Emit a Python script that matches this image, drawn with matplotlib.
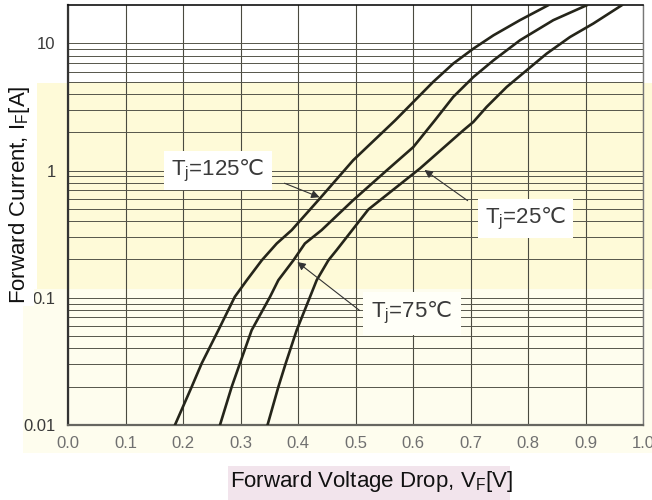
import matplotlib
matplotlib.use("Agg")
import matplotlib.pyplot as plt
from matplotlib.patches import Rectangle
from matplotlib.ticker import FixedLocator, NullFormatter

plt.rcParams['font.family'] = ['Liberation Sans', 'DejaVu Sans']
plt.rcParams['mathtext.fontset'] = 'custom'
plt.rcParams['mathtext.rm'] = 'Liberation Sans'
plt.rcParams['mathtext.it'] = 'Liberation Sans'
plt.rcParams['mathtext.sf'] = 'Noto Sans CJK SC'
plt.rcParams['mathtext.default'] = 'regular'

# ---- data ----
v125 = [0.186, 0.215, 0.2325, 0.2615, 0.290, 0.311, 0.337, 0.363, 0.389, 0.438, 0.496,
        0.569, 0.612, 0.635, 0.670, 0.705, 0.740, 0.786, 0.835]
i125 = [0.01, 0.0199, 0.0305, 0.0556, 0.1016, 0.1375, 0.197, 0.267, 0.340, 0.603, 1.205,
        2.48, 3.90, 4.97, 6.93, 9.08, 11.56, 15.2, 19.9]

v75 = [0.2643, 0.2846, 0.299, 0.3194, 0.3513, 0.3658, 0.392, 0.412, 0.441, 0.496, 0.554,
       0.6006, 0.624, 0.638, 0.670, 0.705, 0.740, 0.786, 0.844, 0.902]
i75 = [0.01, 0.0199, 0.0305, 0.0556, 0.1016, 0.1375, 0.197, 0.267, 0.340, 0.585, 1.0,
       1.53, 2.07, 2.48, 3.79, 5.43, 7.35, 10.56, 15.2, 19.9]

v25 = [0.347, 0.3658, 0.3786, 0.3977, 0.4209, 0.4325, 0.4528, 0.467, 0.5223, 0.612, 0.6875,
       0.705, 0.728, 0.763, 0.7977, 0.8325, 0.873, 0.9136, 0.963]
i25 = [0.01, 0.0199, 0.0305, 0.0556, 0.1016, 0.1375, 0.197, 0.2365, 0.494, 1.037, 2.07,
       2.41, 3.16, 4.54, 6.14, 8.30, 11.2, 14.3, 19.9]

x_ticks = [0.0, 0.1, 0.2, 0.3, 0.4, 0.5, 0.6, 0.7, 0.8, 0.9, 1.0]
x_tick_labels = ["0.0", "0.1", "0.2", "0.3", "0.4", "0.5", "0.6", "0.7", "0.8", "0.9", "1.0"]
y_ticks = [0.01, 0.1, 1, 10]
y_tick_labels = ["0.01", "0.1", "1", "10"]
y_minor = [m * 10.0 ** k for k in (-2, -1, 0) for m in range(2, 10)]

W, H = 652, 500
fig = plt.figure(figsize=(W / 100, H / 100), dpi=100)
fig.patch.set_facecolor('white')

def px_rect(x0, y0, x1, y1, color, z=-10):
    r = Rectangle((x0 / W, 1 - y1 / H), (x1 - x0) / W, (y1 - y0) / H,
                  transform=fig.transFigure, facecolor=color, edgecolor='none', zorder=z)
    fig.add_artist(r)

# background bands (scan colouring)
px_rect(37, 83, 652, 289, '#fefad8')
px_rect(23, 289, 652, 453, '#fefdee')
px_rect(228, 466, 510, 500, '#f2e4ec')

ax = fig.add_axes([68 / W, 75 / H, (643 - 68) / W, 420 / H])
ax.set_facecolor('none')
ax.set_yscale('log')
ax.set_xlim(0, 1.0)
ax.set_ylim(0.01, 20)

ax.set_xticks(x_ticks)
ax.set_xticklabels(x_tick_labels)
ax.set_yticks(y_ticks)
ax.set_yticklabels(y_tick_labels)
ax.yaxis.set_minor_locator(FixedLocator(y_minor))
ax.yaxis.set_minor_formatter(NullFormatter())
ax.tick_params(axis='both', which='both', length=0)
ax.tick_params(axis='x', pad=8, labelsize=12, labelcolor='#707070')
ax.tick_params(axis='y', pad=9, labelsize=12, labelcolor='#3a3a3a')

ax.grid(True, which='major', axis='x', color='#4a4a40', lw=0.8)
ax.grid(True, which='both', axis='y', color='#55554a', lw=0.7)
ax.set_axisbelow(True)

for name, c, lw in [('left', '#333333', 1.6), ('bottom', '#666660', 1.6), ('top', '#111111', 1.2), ('right', '#777777', 1.0)]:
    ax.spines[name].set_color(c)
    ax.spines[name].set_linewidth(lw)

curve_color = '#25251a'
ax.plot(v125, i125, color=curve_color, lw=1.9, zorder=3)
ax.plot(v75, i75, color=curve_color, lw=1.9, zorder=3)
ax.plot(v25, i25, color=curve_color, lw=1.9, zorder=3)

lab_font = dict(fontsize=16, color='#3a3a3a')
box = dict(facecolor='white', edgecolor='none', pad=5)
arrow = dict(arrowstyle='-|>', color='#333333', lw=0.8, mutation_scale=12)

ax.text(0.261, 1.0, 'T$_\\mathregular{j}$=125$\\mathsf{℃}$', ha='center', va='center', bbox=box, zorder=4, **lab_font)
ax.annotate('', xy=(0.442, 0.605), xytext=(0.372, 0.81), arrowprops=arrow, zorder=5)

ax.text(0.598, 0.0757, 'T$_\\mathregular{j}$=75$\\mathsf{℃}$', ha='center', va='center',
        bbox=dict(facecolor='#fffff8', edgecolor='none', pad=6), zorder=4, **lab_font)
ax.annotate('', xy=(0.395, 0.197), xytext=(0.511, 0.077), arrowprops=arrow, zorder=5)

ax.text(0.795, 0.42, 'T$_\\mathregular{j}$=25$\\mathsf{℃}$', ha='center', va='center', bbox=box, zorder=4, **lab_font)
ax.annotate('', xy=(0.616, 1.04), xytext=(0.699, 0.563), arrowprops=arrow, zorder=5)

fig.text(20 / W, 1 - 195 / H, 'Forward Current, I$_\\mathregular{F}$[A]', rotation=90,
         ha='center', va='center', fontsize=16, color='#111111',
         bbox=dict(facecolor='white', edgecolor='none', pad=1))
fig.text(371 / W, 1 - 482 / H, 'Forward Voltage Drop, V$_\\mathregular{F}$[V]',
         ha='center', va='center', fontsize=16, color='#111111')

fig.savefig('out.png', dpi=100)
